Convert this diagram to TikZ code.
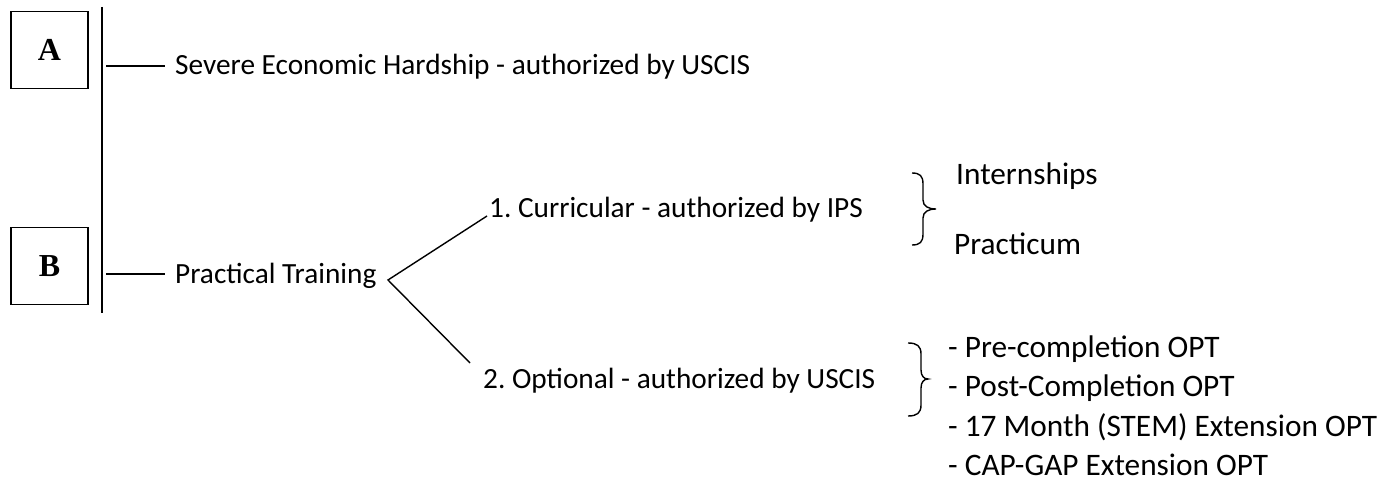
\documentclass[tikz,border=0pt]{standalone}
\usepackage{fontspec}
\setmainfont{Carlito}
\newfontfamily\boxfont{Liberation Serif}
\frenchspacing
\begin{document}
\begin{tikzpicture}[x=1pt,y=-1pt,
  lbl/.style={anchor=base west,inner sep=0pt,font=\fontsize{29.3}{35}\selectfont},
  lblr/.style={anchor=base west,inner sep=0pt,font=\fontsize{31.3}{37}\selectfont},
  letterbox/.style={draw,line width=1.5pt,minimum width=77pt,minimum height=77pt,inner sep=0pt,font=\boxfont\bfseries\fontsize{32}{38}\selectfont},
  conn/.style={line width=1.4pt},
  spine/.style={line width=2pt},
  bracepath/.style={line width=1.4pt}]
\useasboundingbox (0,0) rectangle (1399,481);
% letter boxes
\node[letterbox] (boxA) at (49.5,50) {A};
\node[letterbox] (boxB) at (49.5,266) {B};
% vertical rule
\coordinate (vtop) at (102,7);
\coordinate (vbot) at (102,313);
\draw[spine] (vtop) -- (vbot);
% A branch
\coordinate (a1) at (106,66);
\coordinate (a2) at (165,66);
\draw[conn] (a1) -- (a2);
\node[lbl] (sev) at (175,75) {Severe Economic Hardship - authorized by USCIS};
% B branch
\coordinate (b1) at (106,274);
\coordinate (b2) at (165,274);
\draw[conn] (b1) -- (b2);
\node[lbl] (pt) at (175,283) {Practical Training};
% fork
\coordinate (fork) at (388,280);
\coordinate (up) at (487,216);
\coordinate (dn) at (470,363);
\draw[conn] (up) -- (fork) -- (dn);
\node[lbl] (cur) at (489,217) {1. Curricular - authorized by IPS};
\node[lbl] (opt) at (483,388) {2. Optional - authorized by USCIS};
% brace 1
\coordinate (br1t) at (912,173);
\coordinate (br1m) at (936,209);
\coordinate (br1b) at (912,245);
\draw[bracepath] (br1t) .. controls (920,173) and (923,176) .. (923,184)
  -- (923,200) .. controls (923,206) and (928,209) .. (br1m)
  .. controls (928,209) and (923,212) .. (923,218)
  -- (923,234) .. controls (923,242) and (920,245) .. (br1b);
\node[lblr] (intern) at (956,185) {Internships};
\node[lblr] (pract) at (954,254) {Practicum};
% brace 2
\coordinate (br2t) at (908,343);
\coordinate (br2m) at (928,379);
\coordinate (br2b) at (908,416);
\draw[bracepath] (br2t) .. controls (917,343) and (921,346) .. (921,354)
  -- (921,370) .. controls (921,376) and (924,379) .. (br2m)
  .. controls (924,379) and (921,382) .. (921,388)
  -- (921,405) .. controls (921,413) and (917,416) .. (br2b);
\node[lblr] (o1) at (948,357) {- Pre-completion OPT};
\node[lblr] (o2) at (948,396) {- Post-Completion OPT};
\node[lblr] (o3) at (948,436) {- 17 Month (STEM) Extension OPT};
\node[lblr] (o4) at (948,475) {- CAP-GAP Extension OPT};
\end{tikzpicture}
\end{document}
